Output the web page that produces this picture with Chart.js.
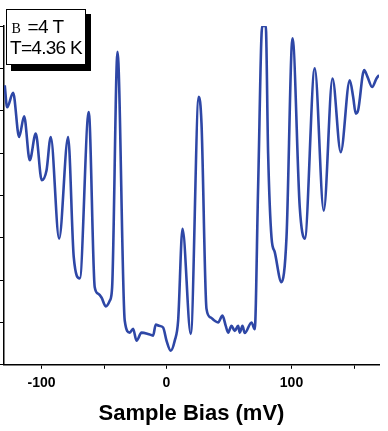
<!DOCTYPE html>
<html>
<head>
<meta charset="utf-8">
<script src="https://cdn.jsdelivr.net/npm/chart.js@4/dist/chart.umd.min.js"></script>
<style>
  html, body { margin: 0; padding: 0; background: #fff; }
  #wrap { width: 388px; height: 431px; }
</style>
</head>
<body>
<div id="wrap"><canvas id="stsChart" width="388" height="431"></canvas></div>
<script>
// sample bias (mV) and tunnelling conductance (arb. units)
const biasMv = [
  -129.4, -127.5, -122.7, -117.9, -113.9, -109.4, -104.6, -99.8, -96.0, -92.6,
  -85.9, -78.7, -74.2, -69.4, -62.2, -57.4, -54.7, -52.0, -48.6, -45.4,
  -43.5, -39.2, -33.4, -29.4, -26.7, -24.0, -20.0, -14.7, -10.7, -8.6,
  -5.9, -2.7, 0.0, 3.4, 6.6, 9.3, 12.8, 19.4, 25.8, 28.0,
  32.0, 35.2, 38.6, 41.3, 44.8, 47.4, 49.3, 52.0, 54.6, 57.3,
  58.6, 60.8, 62.6, 68.0, 70.6, 73.3, 76.6, 79.4, 81.3, 84.0,
  86.6, 92.0, 96.0, 100.8, 106.6, 110.6, 118.6, 125.8, 132.8, 139.4,
  146.6, 149.3, 151.4, 153.3, 158.1, 160.8, 164.5, 168.0, 170.1
];
const conductance = [
  6.60, 6.08, 6.42, 5.38, 5.87, 4.83, 5.46, 4.36, 4.59, 5.38,
  2.98, 5.38, 2.54, 2.04, 5.97, 1.83, 1.68, 1.59, 1.38, 1.51,
  1.83, 7.39, 1.04, 0.76, 0.85, 0.57, 0.76, 0.73, 0.69, 0.95,
  0.92, 0.88, 0.57, 0.33, 0.57, 1.04, 3.21, 0.73, 6.33, 5.70,
  1.32, 1.12, 1.04, 1.00, 1.16, 0.92, 0.76, 0.92, 0.80, 0.92,
  0.76, 0.92, 0.75, 1.00, 0.84, 4.20, 8.00, 8.00, 4.99, 3.01,
  2.66, 1.95, 3.01, 7.71, 3.72, 2.98, 7.00, 3.64, 6.76, 5.02,
  6.72, 6.33, 5.93, 6.01, 6.96, 6.80, 6.56, 6.76, 6.84
];
const xLabelled = [-100, 0, 100];
const boxLine1 = ['B', ' =4 T'];
const boxLine2 = 'T=4.36 K';

const infoBox = {
  id: 'infoBox',
  afterDraw(chart) {
    const ctx = chart.ctx;
    ctx.save();
    ctx.fillStyle = '#000';
    ctx.fillRect(11, 14, 80, 57);
    ctx.fillStyle = '#fff';
    ctx.fillRect(6, 9, 80, 56);
    ctx.strokeStyle = '#000';
    ctx.lineWidth = 1;
    ctx.strokeRect(6.5, 9.5, 79, 55);
    ctx.fillStyle = '#000';
    ctx.textBaseline = 'alphabetic';
    ctx.font = '14px "Liberation Serif"';
    ctx.fillText(boxLine1[0], 11.5, 33);
    ctx.font = '19px "Liberation Sans"';
    ctx.letterSpacing = '-0.7px';
    ctx.fillText(boxLine1[1], 23, 33);
    ctx.fillText(boxLine2, 10, 54);
    ctx.restore();
  }
};

new Chart(document.getElementById('stsChart'), {
  type: 'line',
  data: {
    datasets: [{
      data: biasMv.map((x, i) => ({ x: x, y: conductance[i] })),
      borderColor: '#2e47a6',
      borderWidth: 2.6,
      pointRadius: 0,
      cubicInterpolationMode: 'monotone',
      fill: false
    }]
  },
  options: {
    responsive: false,
    animation: false,
    layout: { padding: { top: 26, left: 0, right: 9, bottom: 0 } },
    plugins: { legend: { display: false }, tooltip: { enabled: false } },
    scales: {
      x: {
        type: 'linear',
        min: -130,
        max: 170,
        afterBuildTicks: axis => {
          axis.ticks = [-100, -50, 0, 50, 100, 150].map(v => ({ value: v }));
        },
        grid: { drawOnChartArea: false, tickLength: 4, color: '#000' },
        border: { color: '#000', width: 1.5 },
        ticks: {
          padding: 6,
          color: '#000',
          maxRotation: 0,
          font: { family: '"Liberation Sans"', size: 14, weight: 'bold' },
          callback: v => xLabelled.includes(v) ? String(v) : ''
        },
        title: {
          display: true,
          text: 'Sample Bias (mV)',
          color: '#000',
          font: { family: '"Liberation Sans"', size: 22, weight: 'bold' },
          padding: { top: 3, bottom: 4 }
        }
      },
      y: {
        min: 0,
        max: 8,
        ticks: { display: false, stepSize: 1 },
        grid: { drawOnChartArea: false, tickLength: 4, color: '#000' },
        border: { color: '#000', width: 1.5 }
      }
    }
  },
  plugins: [infoBox]
});
</script>
</body>
</html>
